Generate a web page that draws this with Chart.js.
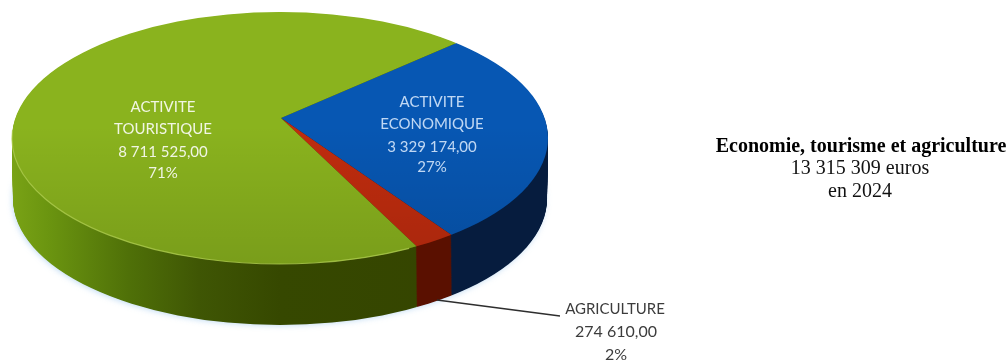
<!DOCTYPE html>
<html>
<head>
<meta charset="utf-8">
<script src="https://cdn.jsdelivr.net/npm/chart.js@4/dist/chart.umd.min.js"></script>
<style>
  html, body { margin: 0; padding: 0; background: #fff; }
  canvas { display: block; }
</style>
</head>
<body>
<canvas id="budget" width="1008" height="361"></canvas>
<script>
var categories = ["ACTIVITE ECONOMIQUE", "AGRICULTURE", "ACTIVITE TOURISTIQUE"];
var values = [3329174, 274610, 8711525];
var topColors = ["#0757b3", "#c02c0e", "#8ab31e"];
var labelLines = [["ACTIVITE", "ECONOMIQUE"], ["AGRICULTURE"], ["ACTIVITE", "TOURISTIQUE"]];
var titleLines = ["Economie, tourisme et agriculture", "13 315 309 euros", "en 2024"];

// tilted disc: the apex sits above the centre of the rim ellipse
var apex = { x: 281, y: 118 };
var tilt = 0.475;
var spread = 360;
var rimTop = { x: 280, y: 138, rx: 268, ry: 126 };
var rimBottom = { x: 280, y: 199, rx: 267, ry: 126 };
var depth = 60;
var layers = 70;

function money(v) {
    return String(v).replace(/\B(?=(\d{3})+$)/g, " ") + ",00";
}

function percent(i) {
    var total = values.reduce(function (a, b) { return a + b; }, 0);
    return Math.round(values[i] / total * 100) + "%";
}

function lines(i) {
    return labelLines[i].concat([money(values[i]), percent(i)]);
}

function drawLines(ctx, list, x, ys, font, color) {
    ctx.font = font;
    ctx.fillStyle = color;
    ctx.textAlign = "center";
    ctx.textBaseline = "middle";
    list.forEach(function (t, i) { ctx.fillText(t, x, ys[i]); });
}

// side wall colours darken towards the front of the disc
function sideFill(ctx, chartCx, scale, i) {
    var toLocal = function (x) { return chartCx + (x - apex.x) / scale; };
    var g = ctx.createLinearGradient(toLocal(10), 0, toLocal(550), 0);
    if (i === 2) {
        g.addColorStop(0, "#7aa316");
        g.addColorStop(0.07, "#6b9510");
        g.addColorStop(0.22, "#4f7008");
        g.addColorStop(0.35, "#3f5604");
        g.addColorStop(0.5, "#364800");
        g.addColorStop(1, "#344300");
    } else if (i === 1) {
        g.addColorStop(0, "#5a1000");
        g.addColorStop(1, "#5a1000");
    } else {
        g.addColorStop(0, "#061c3e");
        g.addColorStop(1, "#061c3e");
    }
    return g;
}

function drawSlices(ctx, chart, rim, dy, fills) {
    var arcs = chart.getDatasetMeta(0).data;
    var scale = spread / arcs[0].outerRadius;
    ctx.save();
    ctx.beginPath();
    ctx.ellipse(rim.x, rim.y, rim.rx, rim.ry, 0, 0, Math.PI * 2);
    ctx.clip();
    ctx.translate(apex.x, apex.y + dy);
    ctx.scale(scale, scale * tilt);
    ctx.translate(-arcs[0].x, -arcs[0].y);
    arcs.forEach(function (arc, i) {
        var own = arc.options;
        if (fills) {
            arc.options = Object.create(own);
            arc.options.backgroundColor = fills[i];
        }
        arc.draw(ctx);
        arc.options = own;
    });
    ctx.restore();
}

var tiltedDisc = {
    id: "tiltedDisc",
    beforeDatasetsDraw: function (chart) {
        var ctx = chart.ctx;
        var arcs = chart.getDatasetMeta(0).data;
        var scale = spread / arcs[0].outerRadius;

        // pale fringe under the lower edge
        ctx.save();
        ctx.shadowColor = "rgba(150,195,235,0.7)";
        ctx.shadowBlur = 6;
        ctx.shadowOffsetX = -1;
        ctx.shadowOffsetY = 1;
        ctx.fillStyle = "#344300";
        ctx.beginPath();
        ctx.ellipse(rimBottom.x, rimBottom.y, rimBottom.rx - 1, rimBottom.ry - 1, 0, 0, Math.PI * 2);
        ctx.fill();
        ctx.restore();

        var fills = arcs.map(function (a, i) { return sideFill(ctx, arcs[0].x, scale, i); });
        for (var n = layers; n > 0; n--) {
            var t = n / layers;
            var rim = {
                x: rimTop.x + (rimBottom.x - rimTop.x) * t,
                y: rimTop.y + (rimBottom.y - rimTop.y) * t,
                rx: rimTop.rx + (rimBottom.rx - rimTop.rx) * t,
                ry: rimTop.ry + (rimBottom.ry - rimTop.ry) * t
            };
            drawSlices(ctx, chart, rim, depth * t, fills);
        }

        drawSlices(ctx, chart, rimTop, 0, null);

        // the top face gets a little darker towards the front
        ctx.save();
        var shade = ctx.createLinearGradient(0, rimTop.y - rimTop.ry, 0, rimTop.y + rimTop.ry);
        shade.addColorStop(0, "rgba(0,0,0,0)");
        shade.addColorStop(0.45, "rgba(0,0,0,0)");
        shade.addColorStop(1, "rgba(0,0,0,0.12)");
        ctx.fillStyle = shade;
        ctx.beginPath();
        ctx.ellipse(rimTop.x, rimTop.y, rimTop.rx, rimTop.ry, 0, 0, Math.PI * 2);
        ctx.fill();

        // light edge along the front of the green top
        ctx.strokeStyle = "rgba(175,205,80,0.8)";
        ctx.lineWidth = 1.2;
        ctx.beginPath();
        ctx.ellipse(rimTop.x, rimTop.y, rimTop.rx, rimTop.ry, 0, Math.PI * 0.34, Math.PI * 1.02);
        ctx.stroke();
        ctx.restore();
        return false;
    },
    afterDraw: function (chart) {
        var ctx = chart.ctx;
        ctx.save();

        // leader line of the small slice
        ctx.strokeStyle = "#2e2e2e";
        ctx.lineWidth = 1.4;
        ctx.beginPath();
        ctx.moveTo(437, 300);
        ctx.lineTo(560, 316);
        ctx.stroke();

        drawLines(ctx, lines(2), 163, [107, 129, 152, 173], "15px Lato", "rgba(255,255,255,0.88)");
        drawLines(ctx, lines(0), 432, [102, 124, 147, 167], "15px Lato", "rgba(225,238,255,0.85)");

        var agri = lines(1);
        drawLines(ctx, agri.slice(0, 1), 615, [309], "15px Lato", "#3c3c3c");
        drawLines(ctx, agri.slice(1), 616, [332, 355], "16px Lato", "#3c3c3c");

        drawLines(ctx, [titleLines[0]], 861, [147], "bold 20px 'Liberation Serif'", "#000000");
        drawLines(ctx, titleLines.slice(1), 860, [169, 192], "20px 'Liberation Serif'", "#111111");
        ctx.restore();
    }
};

new Chart(document.getElementById("budget").getContext("2d"), {
    type: "pie",
    data: {
        labels: categories,
        datasets: [{
            data: values,
            backgroundColor: topColors,
            borderWidth: 0
        }]
    },
    options: {
        responsive: false,
        animation: false,
        rotation: 48,
        layout: { padding: 0 },
        plugins: {
            legend: { display: false },
            tooltip: { enabled: false }
        }
    },
    plugins: [tiltedDisc]
});
</script>
</body>
</html>
